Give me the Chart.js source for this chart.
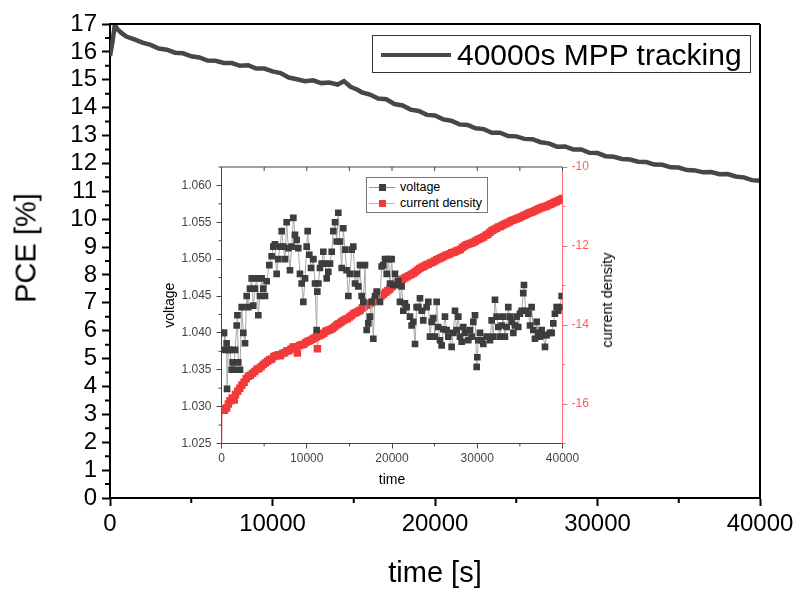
<!DOCTYPE html>
<html>
<head>
<meta charset="utf-8">
<script src="https://cdn.jsdelivr.net/npm/chart.js@4.4.1/dist/chart.umd.min.js"></script>
<style>
  html, body { margin: 0; padding: 0; background: #fff; }
  #wrap { position: relative; width: 800px; height: 593px; font-family: 'Liberation Sans', Arial, sans-serif; }
  #main { position: absolute; left: 0; top: 0; }
  #inset { position: absolute; left: 150px; top: 150px; }
  .main-legend { position: absolute; left: 372px; top: 35px; width: 377px; height: 36px; border: 1.5px solid #333; background: #fff; }
  .main-legend .swatch { position: absolute; left: 8px; top: 17px; width: 70px; height: 4px; background: #474747; }
  .main-legend .label { position: absolute; left: 84px; top: 0; line-height: 38px; font-size: 30px; color: #000; white-space: nowrap; }
  .inset-legend { position: absolute; left: 366px; top: 177px; width: 120px; height: 34px; border: 1px solid #777; background: #fff; font-size: 12.5px; }
  .inset-legend .row { position: absolute; left: 0; height: 16px; width: 120px; }
  .inset-legend .ln { position: absolute; left: 2px; top: 8px; width: 26px; height: 1px; }
  .inset-legend .sq { position: absolute; left: 12px; top: 5px; width: 7px; height: 7px; }
  .inset-legend .tx { position: absolute; left: 33px; top: 0; line-height: 16px; color: #000; white-space: nowrap; }
  .vtitle { position: absolute; color: #000; white-space: nowrap; transform: translate(-50%, -50%) rotate(-90deg); }
  .ptitle { left: 26px; top: 248px; font-size: 29px; }
  .jtitle { left: 607px; top: 300px; font-size: 14.5px; }
</style>
</head>
<body>
<div id="wrap">
  <canvas id="main" width="800" height="593"></canvas>
  <canvas id="inset" width="480" height="350"></canvas>
  <div class="main-legend"><div class="swatch"></div><div class="label">40000s MPP tracking</div></div>
  <div class="inset-legend">
    <div class="row" style="top:1px"><div class="ln" style="background:#999"></div><div class="sq" style="background:#3d3d3d"></div><div class="tx">voltage</div></div>
    <div class="row" style="top:17px"><div class="ln" style="background:#f7a0a0"></div><div class="sq" style="background:#f23a3a"></div><div class="tx">current density</div></div>
  </div>
  <div class="vtitle ptitle">PCE [%]</div>
  <div class="vtitle jtitle">current density</div>
</div>
<script>
Chart.defaults.font.family = "'Liberation Sans', Arial, sans-serif";

// main chart: PCE during MPP tracking
const pceTime = [0, 150, 300, 450, 700, 1000, 1500, 2000, 2500, 3000, 3500, 4000, 4500, 5000, 5500, 6000,
  6500, 7000, 7500, 8000, 8500, 9000, 9500, 10000, 10500, 11000, 11500, 12000, 12500, 13000, 13500, 14000,
  14400, 14800, 15200, 15500, 16000, 16500, 17000, 17500, 18000, 18500, 19000, 19500, 20000, 20500, 21000,
  21500, 22000, 22500, 23000, 23500, 24000, 24500, 25000, 25500, 26000, 26500, 27000, 27500, 28000, 28500,
  29000, 29500, 30000, 30500, 31000, 31500, 32000, 32500, 33000, 33500, 34000, 34500, 35000, 35500, 36000,
  36500, 37000, 37500, 38000, 38500, 39000, 39500, 40000];
const pceValue = [15.85, 16.35, 16.98, 16.82, 16.68, 16.55, 16.45, 16.33, 16.25, 16.12, 16.08, 15.97, 15.95, 15.84, 15.8, 15.69,
  15.68, 15.6, 15.6, 15.5, 15.52, 15.4, 15.4, 15.3, 15.24, 15.08, 15.02, 14.95, 14.98, 14.88, 14.9, 14.83,
  14.95, 14.75, 14.65, 14.55, 14.47, 14.33, 14.3, 14.13, 14.08, 13.93, 13.88, 13.74, 13.72, 13.58, 13.53,
  13.4, 13.38, 13.26, 13.23, 13.1, 13.1, 12.98, 12.97, 12.88, 12.87, 12.76, 12.72, 12.6, 12.61, 12.5,
  12.5, 12.38, 12.37, 12.26, 12.24, 12.16, 12.14, 12.06, 12.05, 11.96, 11.95, 11.86, 11.85, 11.76, 11.75,
  11.68, 11.69, 11.61, 11.62, 11.53, 11.5, 11.4, 11.38];

const pceTicks = [0, 1, 2, 3, 4, 5, 6, 7, 8, 9, 10, 11, 12, 13, 14, 15, 16, 17];
const pceMinor = [0.5, 1.5, 2.5, 3.5, 4.5, 5.5, 6.5, 7.5, 8.5, 9.5, 10.5, 11.5, 12.5, 13.5, 14.5, 15.5, 16.5];
const timeTicks = [0, 10000, 20000, 30000, 40000];
const timeMinor = [5000, 15000, 25000, 35000];

// inset: voltage and current density
const voltTime = [215, 300, 410, 600, 650, 800, 1000, 1190, 1300, 1450, 1600, 1780, 1870, 1970, 2170, 2365,
  2560, 2760, 2950, 3150, 3340, 3540, 3730, 3930, 4125, 4320, 4515, 4710, 4900, 5100, 5300, 5610, 5880,
  6080, 6270, 6470, 6660, 6860, 7060, 7250, 7450, 7640, 7840, 8030, 8230, 8425, 8620, 8815, 9010, 9200,
  9400, 9600, 9800, 9990, 10110, 10300, 10500, 10780, 10970, 11160, 11240, 11360, 11550, 11750, 11945,
  12140, 12340, 12530, 12730, 12930, 13120, 13320, 13510, 13700, 13900, 14100, 14290, 14490, 14680, 14880,
  15070, 15270, 15460, 15660, 15855, 16050, 16245, 16440, 16635, 16830, 17030, 17220, 17420, 17610, 17810,
  18010, 18200, 18590, 18785, 18980, 19180, 19380, 19570, 19770, 19960, 20150, 20350, 20545, 20740, 20935,
  21130, 21330, 21520, 21720, 22110, 22300, 22500, 22700, 22890, 23090, 23280, 23480, 23670, 24060, 24260,
  24455, 24650, 24845, 25040, 25240, 25430, 25630, 25825, 26020, 26215, 26410, 26605, 26995, 27190, 27390,
  27580, 27780, 27975, 28170, 28365, 28560, 28950, 29150, 29340, 29540, 29735, 29930, 30010, 30130, 30320,
  30520, 30710, 31100, 31490, 31690, 31885, 32080, 32275, 32470, 32665, 32860, 33060, 33250, 33450, 33640,
  33840, 34030, 34230, 34420, 34620, 34810, 35010, 35200, 35400, 35480, 35680, 35990, 36190, 36380, 36580,
  36770, 36970, 37165, 37360, 37555, 37750, 37945, 38140, 38530, 38730, 38920, 39110, 39310, 39500, 39700, 39900];
const voltValue = [1.0400, 1.0400, 1.0377, 1.0386, 1.0324, 1.0377, 1.0377, 1.0350, 1.0360, 1.0350, 1.0377, 1.0410, 1.0424, 1.0360, 1.0350, 1.0435,
  1.0400, 1.0386, 1.0450, 1.0435, 1.0460, 1.0474, 1.0437, 1.0460, 1.0474, 1.0424, 1.0450, 1.0474, 1.0460, 1.0450, 1.0470, 1.0492, 1.0504,
  1.0517, 1.0520, 1.0480, 1.0500, 1.0517, 1.0538, 1.0517, 1.0500, 1.0550, 1.0515, 1.0485, 1.0517, 1.0556, 1.0533, 1.0526, 1.0515, 1.0480,
  1.0467, 1.0442, 1.0474, 1.0517, 1.0538, 1.0506, 1.0488, 1.0500, 1.0467, 1.0404, 1.0456, 1.0467, 1.0488, 1.0494, 1.0510,
  1.0494, 1.0474, 1.0483, 1.0494, 1.0510, 1.0538, 1.0550, 1.0524, 1.0563, 1.0524, 1.0488, 1.0542, 1.0513, 1.0485, 1.0450,
  1.0480, 1.0513, 1.0517, 1.0467, 1.0480, 1.0463, 1.0492, 1.0450, 1.0442, 1.0492, 1.0404, 1.0413, 1.0422, 1.0442, 1.0392,
  1.0450, 1.0456, 1.0442, 1.0490, 1.0492, 1.0500, 1.0480, 1.0500, 1.0467, 1.0500, 1.0465, 1.0480, 1.0465, 1.0470, 1.0442,
  1.0463, 1.0430, 1.0440, 1.0435, 1.0422, 1.0410, 1.0415, 1.0385, 1.0435, 1.0435, 1.0447, 1.0430, 1.0417, 1.0435, 1.0442,
  1.0395, 1.0415, 1.0420, 1.0395, 1.0442, 1.0408, 1.0390, 1.0383, 1.0405, 1.0422, 1.0404, 1.0395, 1.0381, 1.0400, 1.0430,
  1.0404, 1.0422, 1.0395, 1.0388, 1.0408, 1.0400, 1.0390, 1.0404, 1.0395, 1.0415, 1.0424, 1.0354, 1.0367, 1.0390, 1.0400,
  1.0390, 1.0385, 1.0395, 1.0390, 1.0417, 1.0395, 1.0445, 1.0422, 1.0408, 1.0395, 1.0410, 1.0422, 1.0395, 1.0408, 1.0435,
  1.0422, 1.0415, 1.0400, 1.0410, 1.0422, 1.0408, 1.0426, 1.0430, 1.0454, 1.0465, 1.0430, 1.0426, 1.0410, 1.0435, 1.0404,
  1.0392, 1.0415, 1.0400, 1.0395, 1.0404, 1.0397, 1.0381, 1.0397, 1.0400, 1.0400, 1.0413, 1.0426, 1.0435, 1.0430, 1.0435, 1.0450];

const cdTime = [0, 100, 350, 600, 800, 1000, 1250, 1500, 1650, 1900, 2150, 2400, 2650, 2900, 3150, 3400, 3650,
  3900, 4150, 4400, 4650, 4900, 5150, 5400, 5650, 5900, 6150, 6400, 6650, 6900, 7150, 7400, 7650, 7900,
  8150, 8400, 8650, 8900, 9150, 9400, 9650, 9900, 10150, 10400, 10650, 10900, 11150, 11250, 11500, 11750,
  12000, 12250, 12500, 12750, 13000, 13250, 13500, 13750, 14000, 14250, 14500, 14750, 15000, 15250, 15500,
  15750, 16000, 16250, 16500, 16750, 17000, 17250, 17500, 17750, 18000, 18250, 18500, 18750, 19000, 19250,
  19500, 19750, 20000, 20250, 20500, 20750, 21000, 21250, 21500, 21750, 22000, 22250, 22500, 22750, 23000,
  23250, 23500, 23750, 24000, 24250, 24500, 24750, 25000, 25250, 25500, 25750, 26000, 26250, 26500, 26750,
  27000, 27250, 27500, 27750, 28000, 28250, 28500, 28750, 29000, 29250, 29500, 29750, 30000, 30250, 30500,
  30750, 31000, 31250, 31500, 31750, 32000, 32250, 32500, 32750, 33000, 33250, 33500, 33750, 34000, 34250,
  34500, 34750, 35000, 35250, 35500, 35750, 36000, 36250, 36500, 36750, 37000, 37250, 37500, 37750, 38000,
  38250, 38500, 38750, 39000, 39250, 39500, 39750, 40000];
const cdValue = [-18.0, -16.12, -16.16, -16.1, -16.0, -15.92, -15.85, -15.9, -15.76, -15.68, -15.6, -15.52, -15.45, -15.36, -15.3, -15.27, -15.22,
  -15.18, -15.12, -15.1, -15.06, -15.0, -14.96, -14.92, -14.88, -14.86, -14.8, -14.78, -14.75, -14.78, -14.72, -14.7, -14.66, -14.65,
  -14.61, -14.56, -14.55, -14.71, -14.52, -14.5, -14.49, -14.44, -14.41, -14.39, -14.36, -14.33, -14.3, -14.6, -14.27, -14.24,
  -14.21, -14.16, -14.13, -14.12, -14.09, -14.05, -14.0, -13.97, -13.93, -13.89, -13.86, -13.84, -13.8, -13.76, -13.71,
  -13.69, -13.66, -13.63, -13.57, -13.53, -13.5, -13.48, -13.45, -13.42, -13.37, -13.32, -13.3, -13.26, -13.22, -13.17,
  -13.13, -13.09, -13.03, -12.98, -12.94, -12.89, -12.86, -12.84, -12.81, -12.78, -12.75, -12.72, -12.69, -12.65, -12.61,
  -12.57, -12.54, -12.51, -12.48, -12.46, -12.43, -12.41, -12.38, -12.35, -12.32, -12.3, -12.27, -12.24, -12.22, -12.2,
  -12.17, -12.16, -12.13, -12.11, -12.09, -12.04, -12.0, -11.97, -11.95, -11.93, -11.91, -11.88, -11.85, -11.82, -11.8,
  -11.77, -11.73, -11.7, -11.65, -11.61, -11.58, -11.55, -11.52, -11.5, -11.47, -11.44, -11.42, -11.39, -11.36, -11.34,
  -11.32, -11.3, -11.28, -11.25, -11.22, -11.2, -11.17, -11.15, -11.13, -11.11, -11.08, -11.06, -11.03, -11.01, -11.0,
  -10.98, -10.95, -10.93, -10.9, -10.88, -10.85, -10.83, -10.8];

const voltTicks = [1.025, 1.030, 1.035, 1.040, 1.045, 1.050, 1.055, 1.060];
const voltMinor = [1.0275, 1.0325, 1.0375, 1.0425, 1.0475, 1.0525, 1.0575, 1.0625];
const cdTicks = [-16, -14, -12, -10];
const cdMinor = [-17, -15, -13, -11];
const insetTimeTicks = [0, 10000, 20000, 30000, 40000];
const insetTimeMinor = [5000, 15000, 25000, 35000];
const insetTopTicks = [0, 5000, 10000, 15000, 20000, 25000, 30000, 35000, 40000];

function toPoints(xs, ys) {
  return xs.map((x, i) => ({ x: x, y: ys[i] }));
}

// short ticks between the labelled ones, drawn at the scale's own pixels
function minorTickPlugin(list) {
  return {
    id: 'minorTicks',
    afterDraw(chart) {
      const ctx = chart.ctx, area = chart.chartArea;
      list.forEach(m => {
        const scale = chart.scales[m.scale];
        const edge = area[m.at];
        ctx.save();
        ctx.strokeStyle = m.color;
        ctx.lineWidth = m.width;
        ctx.beginPath();
        m.values.forEach(v => {
          const p = scale.getPixelForValue(v);
          if (m.at === 'top' || m.at === 'bottom') {
            ctx.moveTo(p, edge);
            ctx.lineTo(p, edge + m.dir * m.len);
          } else {
            ctx.moveTo(edge, p);
            ctx.lineTo(edge + m.dir * m.len, p);
          }
        });
        ctx.stroke();
        ctx.restore();
      });
    }
  };
}

function framePlugin(color, width, sides) {
  return {
    id: 'frame',
    afterDraw(chart) {
      const ctx = chart.ctx, a = chart.chartArea;
      ctx.save();
      ctx.strokeStyle = color;
      ctx.lineWidth = width;
      ctx.beginPath();
      if (sides.includes('top')) { ctx.moveTo(a.left, a.top); ctx.lineTo(a.right, a.top); }
      if (sides.includes('right')) { ctx.moveTo(a.right, a.top); ctx.lineTo(a.right, a.bottom); }
      ctx.stroke();
      ctx.restore();
    }
  };
}

const plainNumber = v => String(v);

new Chart(document.getElementById('main'), {
  type: 'line',
  data: {
    datasets: [{
      label: '40000s MPP tracking',
      data: toPoints(pceTime, pceValue),
      borderColor: '#474747',
      borderWidth: 4.5,
      pointRadius: 0,
      tension: 0,
    }],
  },
  options: {
    responsive: false,
    animation: false,
    devicePixelRatio: 1,
    layout: { padding: { top: 24, right: 40, left: 0, bottom: 0 } },
    plugins: { legend: { display: false }, tooltip: { enabled: false } },
    scales: {
      x: {
        type: 'linear', min: 0, max: 40000,
        afterFit(s) { s.height = 95; },
        afterBuildTicks(s) { s.ticks = timeTicks.map(v => ({ value: v })); },
        ticks: { color: '#000', font: { size: 24 }, padding: 4, maxRotation: 0, autoSkip: false, callback: plainNumber },
        grid: { drawOnChartArea: false, tickLength: 8, tickColor: '#000', tickWidth: 2 },
        border: { color: '#000', width: 2 },
        title: { display: true, text: 'time [s]', color: '#000', font: { size: 29 }, padding: { top: 0, bottom: 2 } },
      },
      y: {
        type: 'linear', min: 0, max: 17,
        afterFit(s) { s.width = 110; },
        afterBuildTicks(s) { s.ticks = pceTicks.map(v => ({ value: v })); },
        ticks: { color: '#000', font: { size: 24 }, padding: 5, autoSkip: false, callback: plainNumber },
        grid: { drawOnChartArea: false, tickLength: 8, tickColor: '#000', tickWidth: 2 },
        border: { color: '#000', width: 2 },
      },
    },
  },
  plugins: [
    framePlugin('#000', 2, ['top', 'right']),
    minorTickPlugin([
      { scale: 'y', at: 'left', dir: -1, len: 5, values: pceMinor, color: '#000', width: 2 },
      { scale: 'x', at: 'bottom', dir: 1, len: 5, values: timeMinor, color: '#000', width: 2 },
    ]),
  ],
});

new Chart(document.getElementById('inset'), {
  type: 'line',
  data: {
    datasets: [{
      label: 'voltage',
      data: toPoints(voltTime, voltValue),
      yAxisID: 'yV',
      borderColor: '#a8a8a8',
      borderWidth: 1,
      pointStyle: 'rect',
      pointRadius: 4.7,
      pointBorderWidth: 0,
      pointBackgroundColor: '#3d3d3d',
      tension: 0,
    }, {
      label: 'current density',
      data: toPoints(cdTime, cdValue),
      yAxisID: 'yJ',
      borderColor: '#f7a0a0',
      borderWidth: 1,
      pointStyle: 'rect',
      pointRadius: 5.3,
      pointBorderWidth: 0,
      pointBackgroundColor: '#f23a3a',
      tension: 0,
    }],
  },
  options: {
    responsive: false,
    animation: false,
    devicePixelRatio: 1,
    layout: { padding: { top: 17, right: 0, left: 0, bottom: 0 } },
    plugins: { legend: { display: false }, tooltip: { enabled: false } },
    scales: {
      x: {
        type: 'linear', min: 0, max: 40000,
        afterFit(s) { s.height = 56.5; },
        afterBuildTicks(s) { s.ticks = insetTimeTicks.map(v => ({ value: v })); },
        ticks: { color: '#444', font: { size: 12 }, padding: 3, maxRotation: 0, autoSkip: false, callback: plainNumber },
        grid: { drawOnChartArea: false, tickLength: 5, tickColor: '#444' },
        border: { color: '#444', width: 1 },
        title: { display: true, text: 'time', color: '#000', font: { size: 14 }, padding: { top: 0, bottom: 11 } },
      },
      yV: {
        type: 'linear', position: 'left', min: 1.025, max: 1.0625,
        afterFit(s) { s.width = 71.5; },
        afterBuildTicks(s) { s.ticks = voltTicks.map(v => ({ value: v })); },
        ticks: { color: '#444', font: { size: 12 }, padding: 5, autoSkip: false, callback: v => v.toFixed(3) },
        grid: { drawOnChartArea: false, tickLength: 5, tickColor: '#444' },
        border: { color: '#444', width: 1 },
        title: { display: true, text: 'voltage', color: '#000', font: { size: 14 }, padding: { top: 12, bottom: 0 } },
      },
      yJ: {
        type: 'linear', position: 'right', min: -17, max: -10,
        afterFit(s) { s.width = 67.5; },
        afterBuildTicks(s) { s.ticks = cdTicks.map(v => ({ value: v })); },
        ticks: { color: '#ff5c5c', font: { size: 12 }, padding: 4, autoSkip: false },
        grid: { drawOnChartArea: false, tickLength: 5, tickColor: '#ff7070' },
        border: { color: '#ff7070', width: 1 },
      },
    },
  },
  plugins: [
    framePlugin('#444', 1, ['top']),
    minorTickPlugin([
      { scale: 'x', at: 'top', dir: 1, len: 4, values: insetTopTicks, color: '#444', width: 1 },
      { scale: 'x', at: 'bottom', dir: 1, len: 3, values: insetTimeMinor, color: '#444', width: 1 },
      { scale: 'yV', at: 'left', dir: -1, len: 3, values: voltMinor, color: '#444', width: 1 },
      { scale: 'yJ', at: 'right', dir: 1, len: 3, values: cdMinor, color: '#ff7070', width: 1 },
    ]),
  ],
});
</script>
</body>
</html>
